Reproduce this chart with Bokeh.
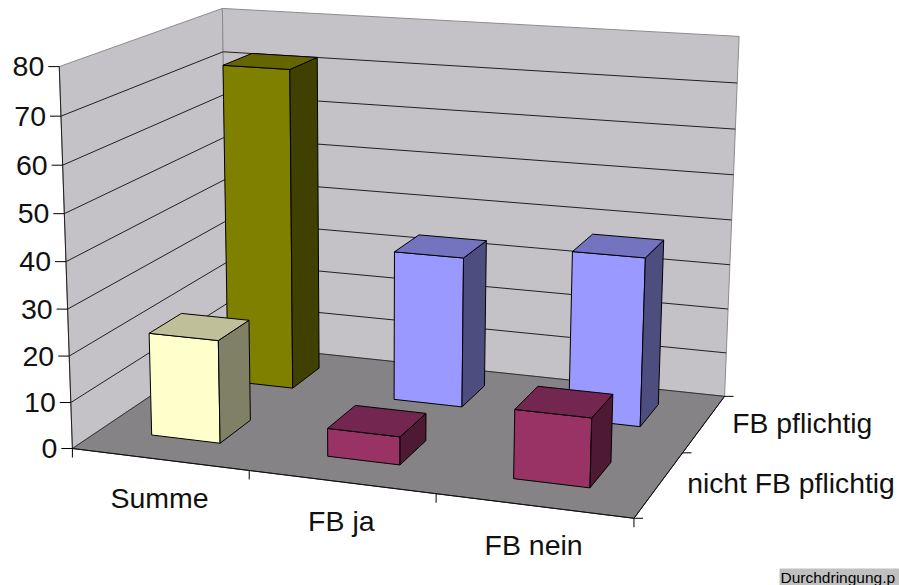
import numpy as np
from bokeh.plotting import figure
from bokeh.models import Range1d
from bokeh.core.properties import value
from bokeh.embed import file_html
from bokeh.resources import INLINE

categories = ["Summe", "FB ja", "FB nein"]
series = ["nicht FB pflichtig", "FB pflichtig"]
nicht_fb_pflichtig = [22.3, 6, 14.5]
fb_pflichtig = [72, 33.5, 37]
value_ticks = [0, 10, 20, 30, 40, 50, 60, 70, 80]
source_label = "Durchdringung.p"

W, H = 899, 585
ZMAX = value_ticks[-1]
NX, NY = len(categories), len(series)

# camera fitted to the frame of the box: (x category, y series, z value) -> screen
frame = [((0, 0, 0), (74, 445)), ((NX, 0, 0), (633, 521)), ((NX, NY, 0), (725, 392)),
         ((0, NY, 0), (225, 347)), ((0, 0, ZMAX), (57, 66)), ((0, NY, ZMAX), (224, 7)),
         ((NX, NY, ZMAX), (738, 37))]
A = []
for (X, Y, Z), (u, v) in frame:
    A.append([X, Y, Z, 1, 0, 0, 0, 0, -u*X, -u*Y, -u*Z, -u])
    A.append([0, 0, 0, 0, X, Y, Z, 1, -v*X, -v*Y, -v*Z, -v])
P = np.linalg.svd(np.array(A, float))[2][-1].reshape(3, 4)

def pr(x, y, z):
    a = P @ np.array([x, y, z, 1.0])
    return a[0]/a[2], a[1]/a[2]

def face(points):
    q = [pr(*t) for t in points]
    return [c[0] for c in q], [c[1] for c in q]

p = figure(width=W, height=H, x_range=Range1d(0, W), y_range=Range1d(H, 0),
           toolbar_location=None, output_backend="svg", min_border=0,
           outline_line_color=None)
p.xaxis.visible = False
p.yaxis.visible = False
p.grid.visible = False

def poly(pts, fill, line="#000000", lw=1.0):
    xs, ys = face(pts)
    p.patch(xs, ys, fill_color=fill, line_color=line, line_width=lw)

def seg(a, b, color="#000000", lw=1.0):
    p.line([a[0], b[0]], [a[1], b[1]], line_color=color, line_width=lw)

WALL, FLOOR = "#C4C2C6", "#858385"
# walls and floor
poly([(0, 0, 0), (0, NY, 0), (0, NY, ZMAX), (0, 0, ZMAX)], WALL, "#8c8c8c")
poly([(0, NY, 0), (NX, NY, 0), (NX, NY, ZMAX), (0, NY, ZMAX)], WALL, "#8c8c8c")
poly([(0, 0, 0), (NX, 0, 0), (NX, NY, 0), (0, NY, 0)], FLOOR, "#303030")

# gridlines
for v in value_ticks[1:-1]:
    seg(pr(0, 0, v), pr(0, NY, v), "#202020")
    seg(pr(0, NY, v), pr(NX, NY, v), "#202020")

# axes
seg(pr(0, 0, 0), pr(0, 0, ZMAX), "#202020")
seg(pr(0, 0, 0), pr(NX, 0, 0), "#101010")
seg(pr(NX, 0, 0), pr(NX, NY, 0), "#101010")

FONT = value("Liberation Sans")
FS = "28.5px"
# ticks
for v in value_ticks:
    x0, y0 = pr(0, 0, v)
    seg((x0-11, y0), (x0, y0))
    p.text([x0-15], [y0], text=[str(v)], text_font=FONT,
           text_font_size=FS, text_align="right", text_baseline="middle", text_color="#111111")
for i in range(NX+1):
    x0, y0 = pr(i, 0, 0)
    seg((x0, y0), (x0, y0+9))
for j in range(NY+1):
    x0, y0 = pr(NX, j, 0)
    seg((x0, y0), (x0+9, y0))

for i, c in enumerate(categories):
    x0, y0 = pr(i+.5, 0, 0)
    p.text([x0], [y0+39], text=[c], text_font=FONT, text_font_size=FS,
           text_align="center", text_baseline="middle", text_color="#111111")
for j, s in enumerate(series):
    x0, y0 = pr(NX, j+.5, 0)
    p.text([x0+28], [y0-1], text=[s], text_font=FONT, text_font_size="28.3px",
           text_align="left", text_baseline="middle", text_color="#111111")

# bars, back row first
colors = {
    (1, 0): ("#808000", "#666600", "#404000"),
    (1, 1): ("#9999FF", "#7373BF", "#4D4D80"),
    (1, 2): ("#9999FF", "#7373BF", "#4D4D80"),
    (0, 0): ("#FFFFCC", "#BFBF99", "#808066"),
    (0, 1): ("#993366", "#732650", "#4D1933"),
    (0, 2): ("#993366", "#732650", "#4D1933"),
}
rows = [nicht_fb_pflichtig, fb_pflichtig]
for j in (1, 0):
    for i in range(NX):
        v = rows[j][i]
        front, top, side = colors[(j, i)]
        a, b = i+0.295, i+0.69
        c, d = j+0.335, j+0.735
        poly([(a, c, 0), (b, c, 0), (b, c, v), (a, c, v)], front)
        poly([(b, c, 0), (b, d, 0), (b, d, v), (b, c, v)], side)
        poly([(a, c, v), (b, c, v), (b, d, v), (a, d, v)], top)

# label in the corner
p.quad(left=[779], right=[W], top=[568], bottom=[H], fill_color="#C0C0C0", line_color=None)
p.text([780], [577], text=[source_label], text_font=FONT, text_font_size="15.5px",
       text_align="left", text_baseline="middle", text_color="#000000")

open("out.html", "w").write(file_html(p, INLINE))
